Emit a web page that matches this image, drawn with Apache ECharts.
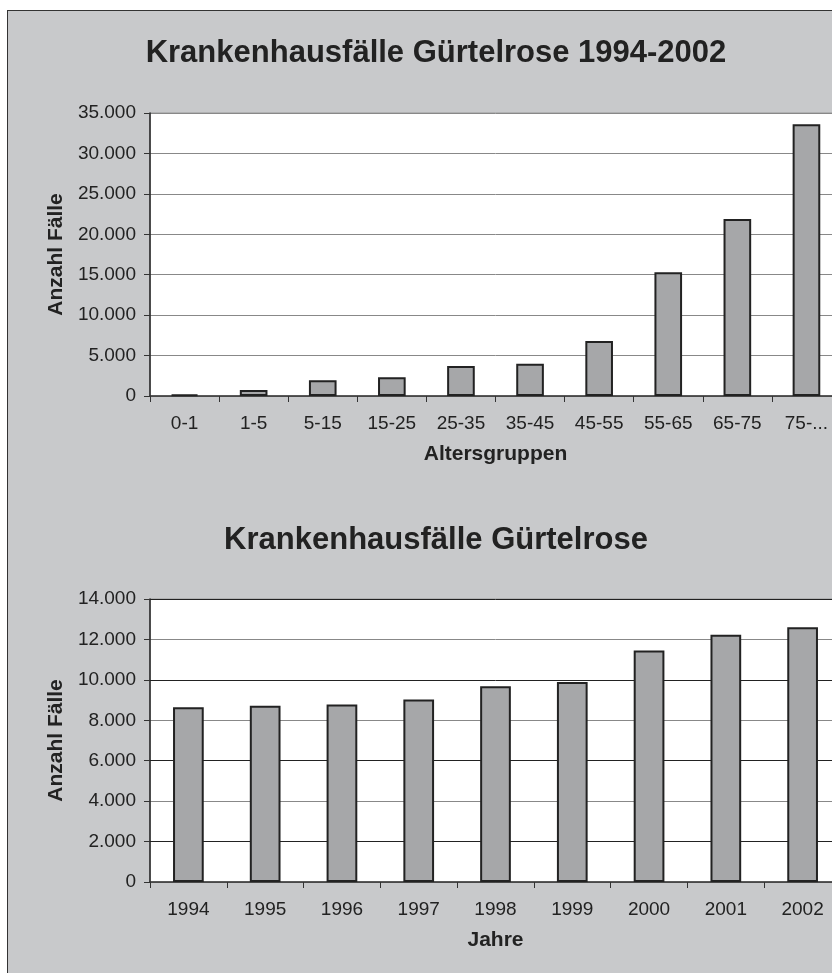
<!DOCTYPE html>
<html>
<head>
<meta charset="utf-8">
<script src="https://cdn.jsdelivr.net/npm/echarts@6/dist/echarts.min.js"></script>
<style>
  html, body { margin: 0; padding: 0; overflow: hidden; background: #fff; }
  #frame {
    position: absolute; left: 7px; top: 10px;
    width: 856px; height: 1000px;
    border: 1px solid #333;
  }
</style>
</head>
<body>
<div id="frame"></div>
<script>
const ageGroups = ['0-1', '1-5', '5-15', '15-25', '25-35', '35-45', '45-55', '55-65', '65-75', '75-...']
const casesByAge = [200, 750, 1950, 2330, 3700, 4000, 6800, 15300, 21900, 33600]
const years = ['1994', '1995', '1996', '1997', '1998', '1999', '2000', '2001', '2002']
const casesByYear = [8650, 8720, 8780, 9030, 9680, 9900, 11450, 12230, 12600]
const ageAxis = { max: 35000, interval: 5000 }
const yearAxis = { max: 14000, interval: 2000 }

const FONT = '"Liberation Sans", Arial, sans-serif'
const fmt = v => String(v).replace(/\B(?=(\d{3})+(?!\d))/g, '.')

let xAxisBase = (idx, data, name) => ({
  type: 'category',
  gridIndex: idx,
  data: data,
  name: name,
  nameLocation: 'middle',
  nameGap: 48,
  nameTextStyle: { fontFamily: FONT, fontSize: 21, fontWeight: 'bold', color: '#222' },
  axisLine: { lineStyle: { color: '#333', width: 1.5 } },
  axisTick: { show: true, length: 6, lineStyle: { color: '#333' } },
  axisLabel: { fontFamily: FONT, fontSize: 19, color: '#222', margin: 18, interval: 0 },
  splitLine: { show: false }
})

let yAxisBase = (idx, range, lineColor) => ({
  type: 'value',
  gridIndex: idx,
  min: 0,
  max: range.max,
  interval: range.interval,
  name: 'Anzahl Fälle',
  nameLocation: 'middle',
  nameGap: 83,
  nameTextStyle: { fontFamily: FONT, fontSize: 21, fontWeight: 'bold', color: '#222' },
  axisLine: { show: true, lineStyle: { color: '#222', width: 1.5 } },
  axisTick: { show: true, length: 6, lineStyle: { color: '#333' } },
  axisLabel: { fontFamily: FONT, fontSize: 19, color: '#222', margin: 14, formatter: fmt },
  splitLine: { show: true, lineStyle: { color: lineColor, width: 1 } }
})

let barBase = (idx, data) => ({
  type: 'bar',
  xAxisIndex: idx,
  yAxisIndex: idx,
  data: data,
  barWidth: '40%',
  itemStyle: { color: '#a6a7a9', borderColor: '#222', borderWidth: 2 },
  animation: false
})

let chart = echarts.init(document.getElementById('frame'))
chart.setOption({
  backgroundColor: '#c8c9cb',
  animation: false,
  title: [
    {
      text: 'Krankenhausfälle Gürtelrose 1994-2002',
      left: 'center',
      top: 22,
      textStyle: { fontFamily: FONT, fontSize: 31, fontWeight: 'bold', color: '#222' }
    },
    {
      text: 'Krankenhausfälle Gürtelrose',
      left: 'center',
      top: 509,
      textStyle: { fontFamily: FONT, fontSize: 31, fontWeight: 'bold', color: '#222' }
    }
  ],
  grid: [
    { left: 142, top: 102, width: 691, height: 283, show: true, backgroundColor: '#fff', borderColor: '#999', borderWidth: 1 },
    { left: 142, top: 588, width: 691, height: 283, show: true, backgroundColor: '#fff', borderColor: '#999', borderWidth: 1 }
  ],
  xAxis: [
    xAxisBase(0, ageGroups, 'Altersgruppen'),
    xAxisBase(1, years, 'Jahre')
  ],
  yAxis: [
    yAxisBase(0, ageAxis, '#888'),
    yAxisBase(1, yearAxis, ['#888', '#222'])
  ],
  series: [
    barBase(0, casesByAge),
    barBase(1, casesByYear)
  ]
})
</script>
</body>
</html>
